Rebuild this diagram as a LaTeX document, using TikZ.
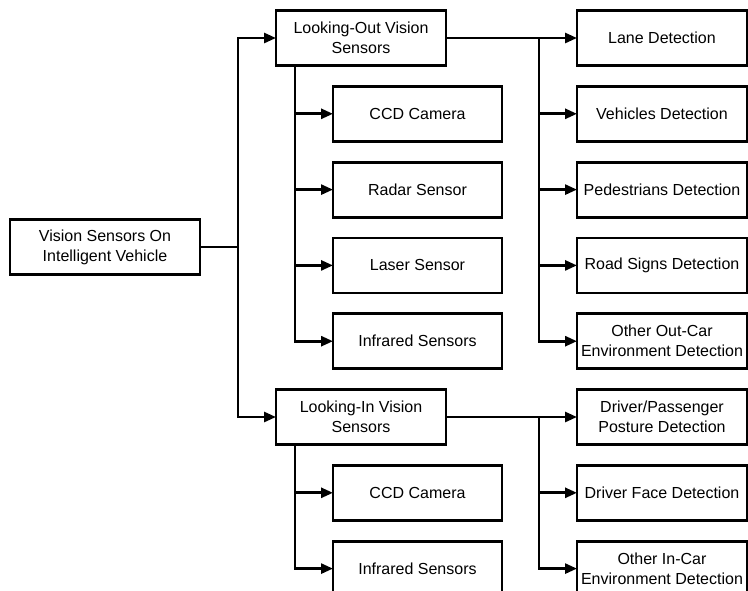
\documentclass[tikz,border=0pt]{standalone}
\usepackage{fontspec}
\setmainfont{Liberation Sans}
\usepackage{tikz}
\usetikzlibrary{arrows.meta, positioning}

\tikzset{
    blk/.style={draw, rectangle, line width=2.8pt, fill=white, outer sep=0pt,
        minimum width=170pt, minimum height=55pt, inner sep=2pt, align=center,
        font=\fontsize{16}{20}\selectfont},
    rootblk/.style={blk, minimum width=190pt},
    sensblk/.style={blk, minimum width=169pt},
    detblk/.style={blk, minimum width=170pt},
    link/.style={line width=2.7pt},
    arr/.style={link, -{Triangle[length=12pt,width=10pt]}}
}

\begin{document}
\begin{tikzpicture}[x=1pt, y=-1pt, node distance=20.8pt]
    \useasboundingbox (0,0) rectangle (748,590);
    \clip (0,0) rectangle (748,590);

    \node[rootblk] (root) at (105,247) {Vision Sensors On\\Intelligent Vehicle};

    % detections down the right column
    \node[detblk] (lane) at (662,38) {Lane Detection};
    \node[detblk, below=of lane] (vehicle) {Vehicles Detection};
    \node[detblk, below=of vehicle] (pedestrian) {Pedestrians Detection};
    \node[detblk, below=of pedestrian] (roadsign) {Road Signs Detection};
    \node[detblk, below=of roadsign] (outcar) {Other Out-Car\\Environment Detection};
    \node[detblk, below=of outcar] (posture) {Driver/Passenger\\Posture Detection};
    \node[detblk, below=of posture] (face) {Driver Face Detection};
    \node[detblk, below=of face] (incar) {Other In-Car\\Environment Detection};

    % the two sensor groups
    \node[blk] (lookout) at (361,38) {Looking-Out Vision\\Sensors};
    \node[blk] (lookin) at (lookout |- posture) {Looking-In Vision\\Sensors};

    \node[sensblk] (outcam) at (417.5,0 |- vehicle) {CCD Camera};
    \node[sensblk, below=of outcam] (radar) {Radar Sensor};
    \node[sensblk, below=of radar] (laser) {Laser Sensor};
    \node[sensblk, below=of laser] (outir) {Infrared Sensors};
    \node[sensblk] (incam) at (outcam |- face) {CCD Camera};
    \node[sensblk, below=of incam] (inir) {Infrared Sensors};

    \draw[link] (root.east) -- ++(38,0) coordinate (fork);
    \draw[arr] (fork) |- (lookout);
    \draw[arr] (fork) |- (lookin);

    \foreach \s in {outcam, radar, laser, outir}
        \draw[arr] ([xshift=19pt]lookout.south west) |- (\s);
    \foreach \s in {incam, inir}
        \draw[arr] ([xshift=19pt]lookin.south west) |- (\s);

    \draw[link] (lookout.east) -- ++(93,0) coordinate (outfork);
    \foreach \d in {lane, vehicle, pedestrian, roadsign, outcar}
        \draw[arr] (outfork) |- (\d);

    \draw[link] (lookin.east) -- ++(93,0) coordinate (infork);
    \foreach \d in {posture, face, incar}
        \draw[arr] (infork) |- (\d);
\end{tikzpicture}
\end{document}
